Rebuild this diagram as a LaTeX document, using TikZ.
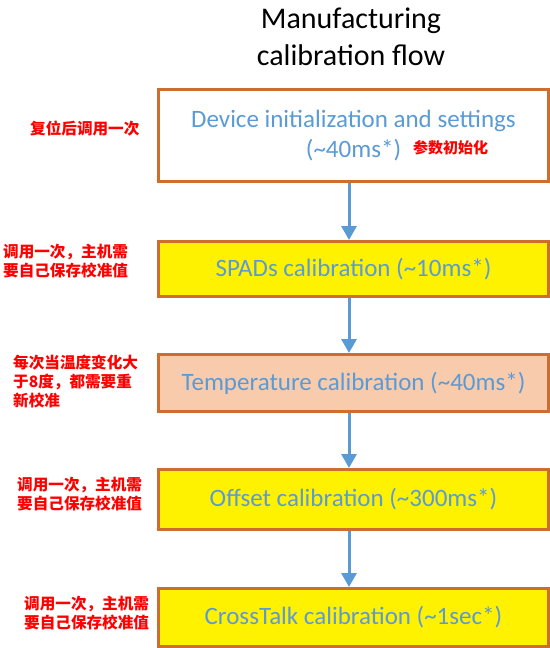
\documentclass[tikz,border=0pt]{standalone}
\usepackage{fontspec}
\setmainfont{Carlito}
\newfontfamily\cjk{Noto Sans CJK SC}
\usetikzlibrary{arrows.meta}
\definecolor{bordc}{RGB}{206,110,46}
\definecolor{txtblue}{RGB}{91,155,213}
\definecolor{peach}{RGB}{248,203,173}
\definecolor{lblred}{RGB}{255,0,0}
\tikzset{
  box/.style={draw=bordc, line width=3pt, anchor=north west, minimum width=390pt,
    inner sep=0pt, text=txtblue, font=\fontsize{25}{30}\selectfont, align=center},
  lbl/.style={anchor=west, inner sep=0pt, text=lblred, align=left,
    font=\cjk\bfseries\fontsize{15.6}{19}\selectfont},
  arr/.style={draw=txtblue, line width=3pt, -{Triangle[width=15pt,length=14pt]}}
}
\begin{document}
\begin{tikzpicture}[x=1pt,y=-1pt]
\useasboundingbox (0,0) rectangle (549,648);
\node[align=center, font=\fontsize{30}{37}\selectfont] (title) at (351,37) {Manufacturing\\calibration flow};
\node[box, fill=white, minimum height=92pt] (b1) at (157,88) {Device initialization and settings\\(\textasciitilde 40ms*)};
\node[box, fill=yellow, minimum height=55pt] (b2) at (157,240) {SPADs calibration (\textasciitilde 10ms*)};
\node[box, fill=peach, minimum height=57pt] (b3) at (157,353) {Temperature calibration (\textasciitilde 40ms*)};
\node[box, fill=yellow, minimum height=60pt] (b4) at (157,468) {Offset calibration (\textasciitilde 300ms*)};
\node[box, fill=yellow, minimum height=58pt] (b5) at (157,587) {CrossTalk calibration (\textasciitilde 1sec*)};
\node[lbl, font=\cjk\bfseries\fontsize{15}{19}\selectfont] (n1) at (413,148) {参数初始化};
\node[lbl] (l1) at (30,129) {复位后调用一次};
\node[lbl] (l2) at (3,261) {调用一次，主机需\\要自己保存校准值};
\node[lbl] (l3) at (13,381) {每次当温度变化大\\于8度，都需要重\\新校准};
\node[lbl] (l4) at (17,494) {调用一次，主机需\\要自己保存校准值};
\node[lbl] (l5) at (24,613) {调用一次，主机需\\要自己保存校准值};
\draw[arr] (b1.south -| 349,0) -- (b2.north -| 349,0);
\draw[arr] (b2.south -| 349,0) -- (b3.north -| 349,0);
\draw[arr] (b3.south -| 349,0) -- (b4.north -| 349,0);
\draw[arr] (b4.south -| 349,0) -- (b5.north -| 349,0);
\end{tikzpicture}
\end{document}
